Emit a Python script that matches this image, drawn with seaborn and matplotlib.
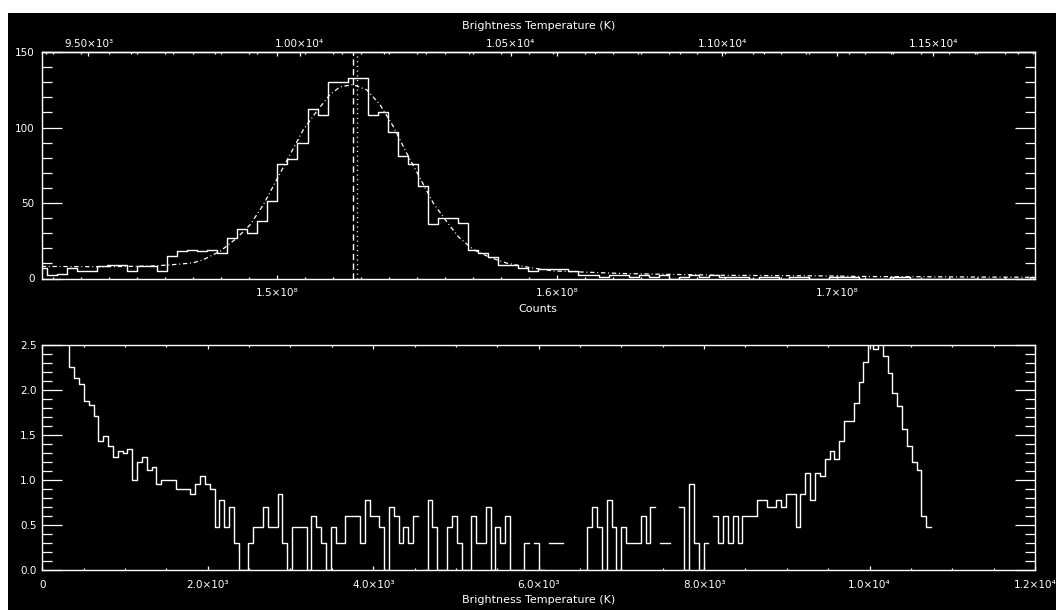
import numpy as np
import pandas as pd
import matplotlib
matplotlib.use("Agg")
import matplotlib.pyplot as plt
from matplotlib.patches import Rectangle
from matplotlib.ticker import FixedLocator, FixedFormatter, MultipleLocator
import seaborn as sns

# ---------------- data ----------------
# Upper panel: histogram of counts (100 bins)
up_first_center = 1.415936e8      # counts, centre of first bin
up_bin_width = 3.5829e5           # counts per bin
up_hist = [7, 2, 3, 7, 5, 5, 8, 9, 9, 5,
           8, 8, 5, 15, 18, 19, 18, 19, 17, 27,
           33, 30, 38, 51, 76, 79, 90, 112, 108, 130,
           130, 133, 133, 108, 110, 97, 81, 76, 61, 36,
           40, 40, 37, 19, 17, 14, 9, 9, 7, 5,
           6, 6, 6, 5, 2, 2, 1, 2, 2, 1,
           2, 1, 2, 0, 1, 2, 1, 2, 1, 1,
           1, 0, 1, 1, 0, 1, 1, 0, 0, 1,
           1, 1, 0, 0, 0, 1, 1, 0, 0, 0,
           0, 0, 0, 0, 0, 0, 0, 0, 0, 1]

# fitted curve (dash-dot)
fit_counts = [1.415936e8, 1.436788e8, 1.454641e8, 1.461782e8, 1.469888e8,
              1.473494e8, 1.479636e8, 1.485598e8, 1.490347e8, 1.495096e8,
              1.499881e8, 1.504630e8, 1.509379e8, 1.514163e8, 1.518912e8,
              1.522483e8, 1.527017e8, 1.532016e8, 1.536765e8, 1.541514e8,
              1.546299e8, 1.551048e8, 1.555796e8, 1.560581e8, 1.564723e8,
              1.570079e8, 1.576113e8, 1.582147e8, 1.590324e8, 1.598893e8,
              1.623388e8, 1.659951e8, 1.696621e8, 1.711260e8, 1.770639e8]
fit_values = [8.0, 7.8, 8.2, 9.0, 10.3,
              12.3, 18.0, 26.7, 35.5, 48.8,
              65.4, 82.0, 98.5, 110.7, 121.8,
              126.9, 128.4, 125.0, 115.1, 100.7,
              83.0, 66.5, 49.9, 37.7, 27.7,
              19.1, 13.9, 10.1, 7.2, 5.0,
              3.3, 2.1, 1.7, 1.3, 0.8]

fit_centre = 1.527017e8     # dashed vertical line
median_counts = 1.528660e8  # dotted vertical line

kelvin_per_count = 6.631e-5  # top axis conversion

up_xticks = [1.5e8, 1.6e8, 1.7e8]
up_xticklabels = ["1.5×10⁸", "1.6×10⁸", "1.7×10⁸"]
up_yticks = [0, 50, 100, 150]
up_yticklabels = ["0", "50", "100", "150"]
top_ticks = [9500, 10000, 10500, 11000, 11500]
top_ticklabels = ["9.50×10³", "1.00×10⁴", "1.05×10⁴", "1.10×10⁴", "1.15×10⁴"]

# Lower panel: histogram of brightness temperature, plotted as log10(N)
low_first_center = 297.4   # K
low_bin_width = 58.53      # K
low_counts = [
    350, 179, 137, 116, 76, 69, 52, 27, 31, 24,
    18, 21, 20, 22, 10, 16, 18, 13, 14, 9,
    10, 10, 10, 8, 8, 8, 7, 9, 11, 9,
    8, 3, 6, 3, 5, 2, 1, 1, 2, 3,
    3, 5, 3, 3, 7, 2, 1, 3, 3, 3,
    1, 4, 3, 2, 1, 3, 2, 2, 4, 4,
    4, 2, 6, 4, 4, 3, 1, 5, 4, 2,
    3, 2, 4, 0, 1, 6, 3, 1, 1, 3,
    4, 2, 1, 1, 4, 2, 2, 5, 1, 3,
    2, 4, 1, 1, 1, 2, 0, 2, 1, 0,
    2, 2, 2, 0, 0, 0, 0, 1, 3, 5,
    3, 1, 6, 3, 1, 3, 2, 2, 2, 4,
    2, 5, 0, 2, 2, 0, 0, 5, 1, 9,
    2, 1, 2, 0, 4, 2, 4, 2, 4, 2,
    4, 4, 4, 6, 6, 5, 5, 6, 5, 7,
    7, 3, 7, 12, 6, 12, 11, 17, 21, 17,
    27, 45, 45, 72, 122, 203, 330, 286, 330, 241,
    156, 92, 67, 37, 24, 16, 13, 4, 3]

low_xticks = [0, 2000, 4000, 6000, 8000, 10000, 12000]
low_xticklabels = ["0", "2.0×10³", "4.0×10³", "6.0×10³", "8.0×10³", "1.0×10⁴", "1.2×10⁴"]
low_yticks = [0.0, 0.5, 1.0, 1.5, 2.0, 2.5]
low_yticklabels = ["0.0", "0.5", "1.0", "1.5", "2.0", "2.5"]

# ---------------- style ----------------
plt.rcParams.update({
    'font.family': ['DejaVu Sans'],
    'font.size': 7.5,
    'axes.labelsize': 8,
    'text.color': 'white',
    'axes.labelcolor': 'white',
    'axes.edgecolor': 'white',
    'axes.linewidth': 1.0,
    'xtick.color': 'white',
    'ytick.color': 'white',
})

W, H = 1056, 610
fig = plt.figure(figsize=(W / 100, H / 100), dpi=100, facecolor='white')
fig.add_artist(Rectangle((8 / W, 0), 1 - 8 / W, 1 - 13 / H, transform=fig.transFigure,
                         facecolor='black', edgecolor='none', zorder=-10))

ax1 = fig.add_axes([41.6 / W, 1 - 278.5 / H, (1035 - 41.6) / W, (278.5 - 52) / H])
ax2 = fig.add_axes([42.3 / W, 1 - 570.3 / H, (1035 - 42.3) / W, (570.3 - 345) / H])

LW = 1.0

# ---------------- upper panel ----------------
up_centers = up_first_center + up_bin_width * np.arange(len(up_hist))
up_df = pd.DataFrame({'counts': up_centers, 'n': up_hist})
sns.lineplot(data=up_df, x='counts', y='n', ax=ax1, color='white', lw=LW,
             drawstyle='steps-mid', estimator=None)
fit_df = pd.DataFrame({'counts': fit_counts, 'n': fit_values})
sns.lineplot(data=fit_df, x='counts', y='n', ax=ax1, color='white', lw=0.9,
             linestyle=(0, (3.5, 2.2, 0.8, 2.2)), estimator=None, sort=False)
ax1.axvline(fit_centre, color='white', lw=LW, linestyle=(0, (4.5, 2.5)))
ax1.axvline(median_counts, color='white', lw=LW, linestyle=(0, (0.8, 2.6)))

ax1.set_xlim(up_centers[0], up_centers[-1])
ax1.set_ylim(0, 150)
ax1.set_facecolor('none')
ax1.xaxis.set_major_locator(FixedLocator(up_xticks))
ax1.xaxis.set_major_formatter(FixedFormatter(up_xticklabels))
ax1.xaxis.set_minor_locator(MultipleLocator(1e6))
ax1.yaxis.set_major_locator(FixedLocator(up_yticks))
ax1.yaxis.set_major_formatter(FixedFormatter(up_yticklabels))
ax1.yaxis.set_minor_locator(MultipleLocator(10))
ax1.set_xlabel('Counts', labelpad=4.4)
ax1.set_ylabel('')

sec = ax1.secondary_xaxis('top', functions=(lambda c: c * kelvin_per_count,
                                            lambda t: t / kelvin_per_count))
sec.xaxis.set_major_locator(FixedLocator(top_ticks))
sec.xaxis.set_major_formatter(FixedFormatter(top_ticklabels))
sec.xaxis.set_minor_locator(MultipleLocator(100))
sec.tick_params(axis='x', which='major', direction='in', length=3.2, width=0.9, pad=2.3, colors='white')
sec.tick_params(axis='x', which='minor', direction='in', length=1.6, width=0.9, colors='white')
for s in sec.spines.values():
    s.set_color('white')
sec.set_xlabel('Brightness Temperature (K)', labelpad=6.8, color='white')

# ---------------- lower panel ----------------
low_centers = low_first_center + low_bin_width * np.arange(len(low_counts))
with np.errstate(divide='ignore'):
    low_log = np.log10(np.asarray(low_counts, dtype=float))
rows = []
run = 0
prev_ok = False
for c, v in zip(low_centers, low_log):
    if np.isfinite(v):
        if not prev_ok:
            run += 1
        rows.append((c - low_bin_width / 2, v, run))
        rows.append((c + low_bin_width / 2, v, run))
        prev_ok = True
    else:
        prev_ok = False
low_df = pd.DataFrame(rows, columns=['T', 'logn', 'run'])
sns.lineplot(data=low_df, x='T', y='logn', units='run', estimator=None, sort=False,
             ax=ax2, color='white', lw=LW)

ax2.set_xlim(0, 12000)
ax2.set_ylim(0, 2.5)
ax2.set_facecolor('none')
ax2.xaxis.set_major_locator(FixedLocator(low_xticks))
ax2.xaxis.set_major_formatter(FixedFormatter(low_xticklabels))
ax2.xaxis.set_minor_locator(MultipleLocator(500))
ax2.yaxis.set_major_locator(FixedLocator(low_yticks))
ax2.yaxis.set_major_formatter(FixedFormatter(low_yticklabels))
ax2.yaxis.set_minor_locator(MultipleLocator(0.1))
ax2.set_xlabel('Brightness Temperature (K)', labelpad=3.6)
ax2.set_ylabel('')

for ax, ypad in ((ax1, 5.2), (ax2, 4.0)):
    for s in ax.spines.values():
        s.set_color('white')
        s.set_linewidth(1.0)
    ax.tick_params(axis='x', which='major', direction='in', length=3.2, width=0.9,
                   top=True, bottom=True, labeltop=False, pad=6.8)
    ax.tick_params(axis='x', which='minor', direction='in', length=1.6, width=0.9,
                   top=True, bottom=True)
    ax.tick_params(axis='y', which='major', direction='in', length=14.3, width=0.9,
                   left=True, right=True, pad=ypad)
    ax.tick_params(axis='y', which='minor', direction='in', length=7.2, width=0.9,
                   left=True, right=True)

fig.savefig('out.png', dpi=100, facecolor=fig.get_facecolor())
